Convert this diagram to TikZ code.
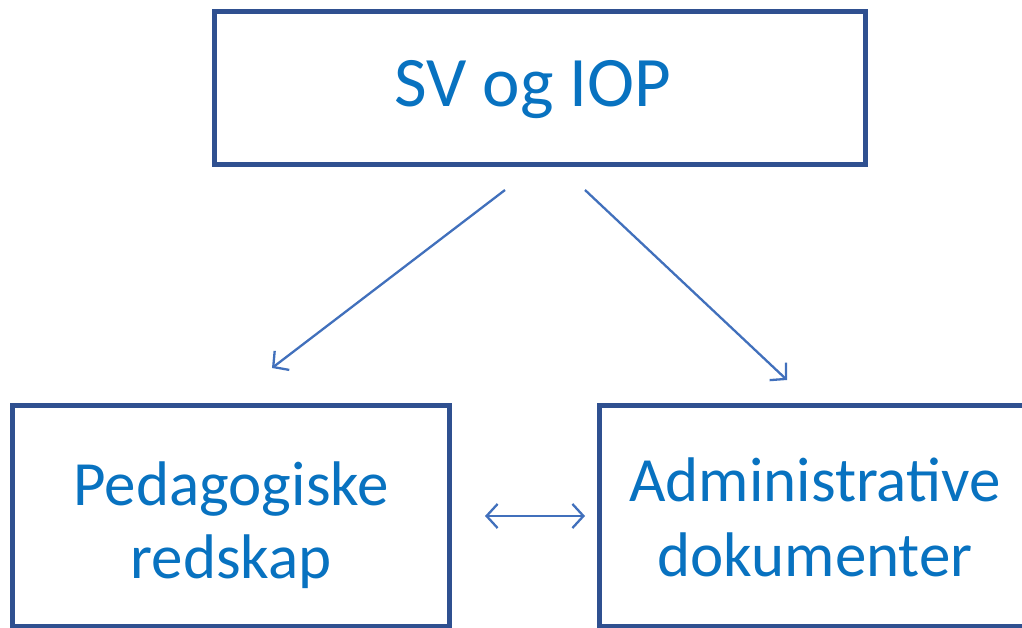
\documentclass[tikz,border=0pt]{standalone}
\usepackage{fontspec}
\setmainfont{Carlito}
\usetikzlibrary{arrows.meta}
\definecolor{boxc}{HTML}{2F5090}
\definecolor{arrc}{HTML}{4170BC}
\definecolor{txtc}{HTML}{0872C0}
\tikzset{
  box/.style={draw=boxc, line width=5pt, fill=white, inner sep=0pt, text=txtc, align=center},
  lbl/.style={text=txtc, align=center, inner sep=0pt},
  conn/.style={draw=arrc, line width=2.3pt, -{Straight Barb[length=11pt,width=24pt,line width=2.3pt]}},
  dconn/.style={draw=arrc, line width=2.3pt, {Straight Barb[length=11pt,width=24pt,line width=2.3pt]}-{Straight Barb[length=11pt,width=24pt,line width=2.3pt]}}
}
\begin{document}
\begin{tikzpicture}[x=1pt,y=-1pt]
\useasboundingbox (0,0) rectangle (1022,628);
\clip (0,0) rectangle (1022,628);
\node[box, minimum width=651pt, minimum height=153pt] (top) at (540,88.5) {};
\node[lbl, font=\fontsize{71}{80}\selectfont] (toplbl) at (533,90) {SV og IOP};
\node[box, minimum width=437pt, minimum height=221pt] (left) at (231,515.5) {};
\node[lbl, font=\fontsize{63}{73}\selectfont] (leftlbl) at (231,525) {Pedagogiske\\redskap};
\node[box, minimum width=432pt, minimum height=221pt] (right) at (815,515.5) {};
\node[lbl, font=\fontsize{63}{75}\selectfont] (rightlbl) at (815,517) {Administrative\\dokumenter};
\coordinate (a1s) at (505,190);
\coordinate (a1e) at (272,368);
\coordinate (a2s) at (585,190);
\coordinate (a2e) at (787,380);
\coordinate (d1) at (485,516);
\coordinate (d2) at (585,516);
\draw[conn] (a1s) -- (a1e);
\draw[conn] (a2s) -- (a2e);
\draw[dconn] (d1) -- (d2);
\end{tikzpicture}
\end{document}
